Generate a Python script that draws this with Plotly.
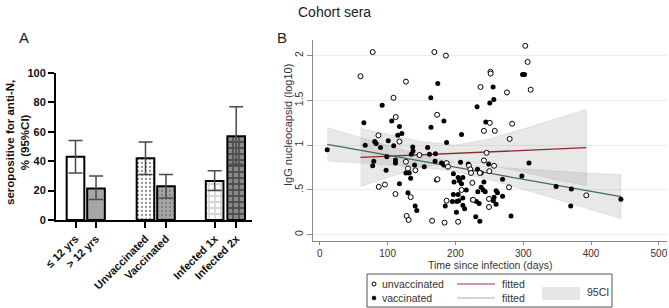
import plotly.graph_objects as go

W, H = 669, 308
def px(x): return x / W
def py(y): return 1 - y / H

# ---------------- Panel A data ----------------
groups = ["≤ 12 yrs", "> 12 yrs", "Unvaccinated", "Vaccinated", "Infected 1x", "Infected 2x"]
seropos = [43, 21.5, 42, 23, 26.5, 57]
ci_low = [32, 14, 31, 15, 20, 38]
ci_high = [54, 30, 53, 31, 33.5, 77]
a_ticks = [0, 20, 40, 60, 80, 100]

# ---------------- Panel B data ----------------
unvacc_days = [60, 78, 86.5, 87, 96, 108.7, 112, 111.6, 117.5, 127, 127, 130, 141, 128, 131, 134, 147,
               165.6, 169, 173, 173.5, 184, 186, 187, 189, 187, 204, 209, 220, 222, 223, 225, 226,
               236, 237, 242, 242, 246, 249.5, 249.5, 250.7, 250, 251.7, 252, 257, 258, 276, 279,
               280, 283.6, 303, 306.5, 311, 393]
unvacc_igg = [1.77, 2.04, 1.11, 0.535, 0.56, 1.53, 1.315, 0.455, 1.04, 1.71, 0.815, 0.74, 0.72, 0.21,
              0.165, 0.42, 0.89, 0.156, 2.04, 1.34, 0.62, 0.135, 2.00, 0.80, 0.76, 0.38, 0.145, 0.50,
              0.77, 0.73, 0.69, 0.58, 0.39, 0.69, 1.65, 1.16, 0.83, 0.915, 0.40, 0.31, 1.25, 0.71,
              1.82, 1.80, 0.77, 1.16, 1.59, 0.53, 1.07, 1.24, 2.11, 1.93, 1.62, 0.44]

vacc_days = [11, 65, 67, 78, 79.6, 81, 83, 89.5, 92, 97.8, 98.8, 101, 106, 109, 111.6, 111.6, 115,
             117.5, 117.5, 121, 127, 132, 130, 134, 135, 137, 137.5, 139.7, 140.6, 143, 154, 159,
             161.7, 163.7, 164, 170, 170.6, 172, 174, 179.5, 183, 183, 185, 187, 195.5, 197, 197,
             198, 201.5, 202, 204, 204, 205, 206, 207.5, 209, 209, 211, 211, 211, 213.5, 216, 219,
             225, 230, 231, 232, 232.6, 233, 235, 236, 238, 238, 241, 242, 244, 244.8, 249, 250.7,
             255.6, 256.6, 256, 257, 260, 260, 262, 269.5, 269.5, 282, 298, 299, 302, 308.5, 348.5,
             371, 370, 444]
vacc_igg = [0.95, 1.25, 1.00, 0.77, 0.82, 1.04, 1.02, 0.975, 1.445, 0.72, 0.87, 1.05, 1.27, 0.995,
            0.835, 0.80, 1.11, 1.21, 0.57, 1.13, 0.69, 0.69, 0.47, 0.63, 0.90, 0.98, 0.935, 0.78,
            0.32, 0.27, 0.76, 0.975, 0.90, 1.53, 1.20, 0.82, 0.905, 0.61, 1.69, 0.80, 0.78, 1.27,
            0.32, 1.03, 0.37, 0.68, 0.45, 0.59, 0.25, 0.37, 0.64, 0.45, 0.38, 0.60, 0.81, 0.57,
            1.12, 0.64, 0.41, 0.33, 0.29, 0.50, 0.79, 0.39, 0.20, 0.37, 1.43, 0.73, 0.48, 0.35,
            0.15, 0.69, 0.53, 0.50, 0.59, 0.48, 1.26, 0.79, 1.47, 1.65, 1.51, 0.38, 0.42, 0.49,
            0.34, 0.47, 0.62, 0.43, 0.21, 0.655, 1.79, 1.79, 0.80, 0.54, 0.51, 0.32, 0.395]

# fitted lines and 95% CI bands
unvacc_fit_days = [60, 393]
unvacc_fit = [0.864, 0.972]
unvacc_ci_days = [60, 100, 150, 200, 250, 300, 350, 393]
unvacc_ci_hi = [1.19, 1.12, 1.04, 1.00, 1.07, 1.18, 1.30, 1.40]
unvacc_ci_lo = [0.54, 0.64, 0.75, 0.82, 0.78, 0.70, 0.61, 0.55]

vacc_fit_days = [11, 444]
vacc_fit = [1.01, 0.425]
vacc_ci_days = [11, 50, 100, 150, 200, 250, 300, 350, 400, 444]
vacc_ci_hi = [1.197, 1.108, 0.996, 0.890, 0.805, 0.759, 0.732, 0.709, 0.688, 0.670]
vacc_ci_lo = [0.823, 0.806, 0.784, 0.755, 0.705, 0.615, 0.508, 0.395, 0.282, 0.180]

b_yticks = [0, 0.5, 1, 1.5, 2]
b_yticktext = ["0", ".5", "1", "1.5", "2"]
b_xticks = [0, 100, 200, 300, 400, 500]

# ---------------- styling ----------------
bar_pos = [0, 1, 3.41, 4.41, 6.78, 7.83]
bar_styles = [
    dict(color="white"),
    dict(color="#a6a6a6"),
    dict(color="white", pattern=dict(shape=".", fgcolor="#222", size=4, solidity=0.25)),
    dict(color="#a6a6a6", pattern=dict(shape=".", fgcolor="#555", size=4, solidity=0.25)),
    dict(color="white", pattern=dict(shape="+", fgcolor="#b0b0b0", size=6, solidity=0.5)),
    dict(color="#8a8a8a", pattern=dict(shape="+", fgcolor="#151515", size=6, solidity=0.5)),
]

FONT = "Liberation Sans, Arial, sans-serif"
fig = go.Figure()

for i in range(len(groups)):
    m = dict(bar_styles[i])
    m["line"] = dict(color="black", width=2)
    fig.add_trace(go.Bar(
        x=[bar_pos[i]], y=[seropos[i]], width=0.86, marker=m,
        error_y=dict(type="data", symmetric=False,
                     array=[ci_high[i] - seropos[i]], arrayminus=[seropos[i] - ci_low[i]],
                     color="#4a4a4a", thickness=1.5, width=7),
        xaxis="x", yaxis="y", showlegend=False))

# CI bands
def band(days, hi, lo):
    return go.Scatter(x=list(days) + list(days)[::-1], y=list(hi) + list(lo)[::-1],
                      fill="toself", fillcolor="rgba(150,150,150,0.22)",
                      line=dict(color="rgba(150,150,150,0.35)", width=0.6),
                      mode="lines", xaxis="x2", yaxis="y2", showlegend=False, hoverinfo="skip")

fig.add_trace(band(unvacc_ci_days, unvacc_ci_hi, unvacc_ci_lo))
fig.add_trace(band(vacc_ci_days, vacc_ci_hi, vacc_ci_lo))

fig.add_trace(go.Scatter(x=unvacc_fit_days, y=unvacc_fit, mode="lines",
                         line=dict(color="#8c2a2a", width=1.3), xaxis="x2", yaxis="y2", showlegend=False))
fig.add_trace(go.Scatter(x=vacc_fit_days, y=vacc_fit, mode="lines",
                         line=dict(color="#3f6b62", width=1.3), xaxis="x2", yaxis="y2", showlegend=False))

fig.add_trace(go.Scatter(x=vacc_days, y=vacc_igg, mode="markers",
                         marker=dict(size=5, color="black", line=dict(width=0)),
                         xaxis="x2", yaxis="y2", showlegend=False))
fig.add_trace(go.Scatter(x=unvacc_days, y=unvacc_igg, mode="markers",
                         marker=dict(size=5, color="white", line=dict(color="black", width=1)),
                         xaxis="x2", yaxis="y2", showlegend=False))

fig.update_layout(
    width=W, height=H, autosize=False,
    margin=dict(l=0, r=0, t=0, b=0, autoexpand=False),
    paper_bgcolor="white", plot_bgcolor="white",
    barmode="overlay",
    font=dict(family=FONT, color="#222"),
    xaxis=dict(domain=[px(56), px(252)], range=[-0.95, 8.6], automargin=False,
               tickvals=bar_pos, ticktext=groups, tickangle=-45,
               tickfont=dict(size=11, color="#111", weight="bold", family=FONT),
               showline=True, linecolor="black", linewidth=2,
               ticks="outside", ticklen=6, tickwidth=2, tickcolor="black",
               showgrid=False, zeroline=False, fixedrange=True),
    yaxis=dict(domain=[py(220), py(73)], range=[0, 100], tickvals=a_ticks, automargin=False,
               tickfont=dict(size=11, color="#111", weight="bold", family=FONT),
               showline=True, linecolor="black", linewidth=2,
               ticks="outside", ticklen=6, tickwidth=2, tickcolor="black",
               showgrid=False, zeroline=False),
    xaxis2=dict(domain=[px(313), px(667)], range=[-10, 512], tickvals=b_xticks, automargin=False,
                tickfont=dict(size=10, color="#333"),
                showline=True, linecolor="#8a8a8a", linewidth=1,
                ticks="outside", ticklen=3, tickcolor="#8a8a8a",
                showgrid=False, zeroline=False, anchor="y2"),
    yaxis2=dict(domain=[py(241), py(40)], range=[-0.07, 2.175], tickvals=b_yticks, automargin=False,
                ticktext=b_yticktext, tickangle=-90,
                tickfont=dict(size=10.5, color="#333"),
                showline=True, linecolor="#8a8a8a", linewidth=1,
                ticks="outside", ticklen=5, tickcolor="#8a8a8a",
                showgrid=True, gridcolor="#ececec", gridwidth=1,
                zeroline=False, anchor="x2"),
)

ann = []
def text(x, y, s, size=11, color="#222", angle=0, xanchor="center", bold=False):
    ann.append(dict(x=px(x), y=py(y), xref="paper", yref="paper", text=s, showarrow=False,
                    xanchor=xanchor, yanchor="middle", textangle=angle,
                    font=dict(size=size, color=color, family=FONT, weight="bold" if bold else "normal")))

text(334, 12, "Cohort sera", size=14)
text(24, 38, "A", size=15)
text(282, 38, "B", size=15)
text(17, 143, "seropositive for anti-N,<br>% (95%CI)", size=11.5, color="#111", angle=-90, bold=True)
text(288, 125, "IgG nucleocapsid (log10)", size=11, color="#333", angle=-90)
text(490, 265, "Time since infection (days)", size=10.5, color="#333")

# legend (drawn)
text(380, 284, "unvaccinated", size=10.5, color="#333", xanchor="left")
text(380, 298, "vaccinated", size=10.5, color="#333", xanchor="left")
text(500, 284, "fitted", size=10.5, color="#333", xanchor="left")
text(500, 298, "fitted", size=10.5, color="#333", xanchor="left")
text(585, 292, "95CI", size=10.5, color="#333", xanchor="left")

shapes = [
    dict(type="rect", xref="paper", yref="paper", x0=px(367), x1=px(612), y0=py(307), y1=py(274),
         line=dict(color="#555", width=1), fillcolor="white", layer="below"),
    dict(type="circle", xref="paper", yref="paper", x0=px(372), x1=px(376), y0=py(286), y1=py(282),
         line=dict(color="black", width=1), fillcolor="white"),
    dict(type="circle", xref="paper", yref="paper", x0=px(372), x1=px(376), y0=py(300), y1=py(296),
         line=dict(color="black", width=0.5), fillcolor="black"),
    dict(type="line", xref="paper", yref="paper", x0=px(457), x1=px(495), y0=py(284), y1=py(284),
         line=dict(color="#a03434", width=1.2)),
    dict(type="line", xref="paper", yref="paper", x0=px(457), x1=px(495), y0=py(298), y1=py(298),
         line=dict(color="#9fb2ab", width=1.2)),
    dict(type="rect", xref="paper", yref="paper", x0=px(542), x1=px(580), y0=py(300), y1=py(287),
         line=dict(width=0), fillcolor="#e6e6e6"),
]

fig.update_layout(annotations=ann, shapes=shapes)
fig.write_html("out.html", config={"displayModeBar": False},
               post_script="document.body.style.margin='0';document.body.style.overflow='hidden';")
